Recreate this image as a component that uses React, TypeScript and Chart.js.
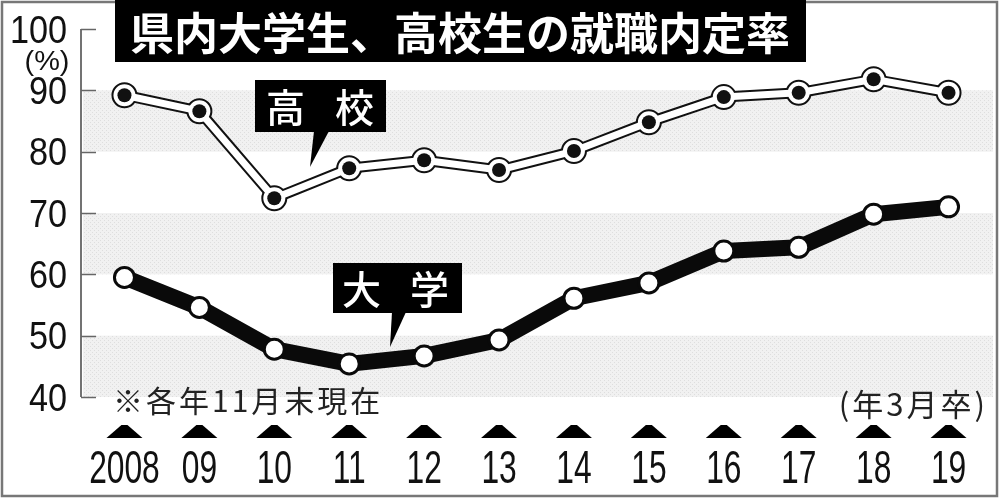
import React, { useEffect, useRef } from "react";
import { Chart, registerables } from "chart.js";

Chart.register(...registerables);

// ---- data ----
const years = ["2008", "09", "10", "11", "12", "13", "14", "15", "16", "17", "18", "19"];
const highSchool = [89.2, 86.6, 72.4, 77.3, 78.6, 77.0, 80.1, 84.8, 88.9, 89.6, 91.8, 89.6];
const university = [59.5, 54.6, 47.8, 45.4, 46.7, 49.3, 56.1, 58.6, 63.8, 64.4, 69.8, 71.0];
const yTicks = [100, 90, 80, 70, 60, 50, 40];
const shadedBands: [number, number][] = [
  [80, 90],
  [60, 70],
  [40, 50],
];
const titleText = "県内大学生、高校生の就職内定率";
const hsLabel = ["高", "校"];
const univLabel = ["大", "学"];
const noteLeft = "※各年11月末現在";
const noteRight = "(年3月卒)";
const unitLabel = "(%)";

const CJK = '"Noto Sans CJK JP", "Noto Sans CJK SC", sans-serif';
const NUM = '"Liberation Sans", Arial, sans-serif';

function makePattern(ctx: CanvasRenderingContext2D) {
  const c = document.createElement("canvas");
  c.width = 4;
  c.height = 4;
  const p = c.getContext("2d")!;
  p.fillStyle = "#f1f1f1";
  p.fillRect(0, 0, 4, 4);
  p.fillStyle = "#dedede";
  p.fillRect(0, 0, 1, 1);
  p.fillRect(2, 2, 1, 1);
  return ctx.createPattern(c, "repeat") || "#ebebeb";
}

function callout(
  ctx: CanvasRenderingContext2D,
  x0: number,
  y0: number,
  x1: number,
  y1: number,
  tail: [number, number][],
  chars: string[],
  offsets: number[]
) {
  ctx.save();
  ctx.fillStyle = "#000";
  ctx.fillRect(x0, y0, x1 - x0, y1 - y0);
  ctx.beginPath();
  ctx.moveTo(tail[0][0], tail[0][1]);
  for (let i = 1; i < tail.length; i++) ctx.lineTo(tail[i][0], tail[i][1]);
  ctx.closePath();
  ctx.fill();
  ctx.fillStyle = "#fff";
  ctx.font = `500 39px ${CJK}`;
  ctx.textAlign = "center";
  ctx.textBaseline = "middle";
  const cx = (x0 + x1) / 2;
  const cy = (y0 + y1) / 2 + 1;
  chars.forEach((ch, i) => ctx.fillText(ch, cx + offsets[i], cy));
  ctx.restore();
}

const decorPlugin = {
  id: "decor",
  beforeDraw(chart: any) {
    const ctx: CanvasRenderingContext2D = chart.ctx;
    const xs = chart.scales.x;
    const ys = chart.scales.y;
    ctx.save();
    ctx.fillStyle = "#fff";
    ctx.fillRect(0, 0, chart.width, chart.height);

    // shaded bands
    const pat = makePattern(ctx);
    ctx.fillStyle = pat as any;
    const bandLeft = 83;
    const bandRight = 993;
    shadedBands.forEach(([lo, hi]) => {
      const t = ys.getPixelForValue(hi);
      const b = ys.getPixelForValue(lo);
      ctx.fillRect(bandLeft, t, bandRight - bandLeft, b - t);
    });

    // y axis
    const axisX = 81;
    ctx.strokeStyle = "#444";
    ctx.lineWidth = 1.5;
    ctx.beginPath();
    ctx.moveTo(axisX, ys.getPixelForValue(100));
    ctx.lineTo(axisX, ys.getPixelForValue(40));
    ctx.stroke();
    ctx.strokeStyle = "#666";
    yTicks.forEach((t) => {
      const py = Math.round(ys.getPixelForValue(t)) + 0.5;
      ctx.beginPath();
      ctx.moveTo(axisX, py);
      ctx.lineTo(96, py);
      ctx.stroke();
    });

    // y labels
    ctx.fillStyle = "#111";
    ctx.font = `38px ${NUM}`;
    ctx.textAlign = "right";
    ctx.textBaseline = "alphabetic";
    yTicks.forEach((t) => {
      const py = ys.getPixelForValue(t);
      ctx.save();
      ctx.translate(67, py + 13.5);
      ctx.scale(0.9, 1);
      ctx.fillText(String(t), 0, 0);
      ctx.restore();
    });
    // unit
    ctx.save();
    ctx.fillStyle = "#111";
    ctx.font = `34px ${NUM}`;
    ctx.textAlign = "center";
    ctx.textBaseline = "middle";
    ctx.translate(47, 62);
    ctx.scale(0.85, 0.8);
    ctx.fillText(unitLabel, 0, 0);
    ctx.restore();

    // x triangles and labels
    years.forEach((lab, i) => {
      const cx = xs.getPixelForValue(i);
      ctx.fillStyle = "#000";
      ctx.beginPath();
      ctx.moveTo(cx - 18, 438);
      ctx.lineTo(cx + 18, 438);
      ctx.lineTo(cx + 3, 425);
      ctx.lineTo(cx - 3, 425);
      ctx.closePath();
      ctx.fill();
      ctx.save();
      ctx.fillStyle = "#111";
      ctx.font = `46px ${NUM}`;
      ctx.textAlign = "center";
      ctx.textBaseline = "alphabetic";
      ctx.translate(cx, 483);
      ctx.scale(0.69, 1);
      ctx.fillText(lab, 0, 0);
      ctx.restore();
    });

    // notes
    ctx.fillStyle = "#222";
    ctx.textBaseline = "middle";
    ctx.textAlign = "left";
    ctx.font = `30px ${CJK}`;
    (ctx as any).letterSpacing = "3px";
    ctx.fillText(noteLeft, 113, 401);
    ctx.textAlign = "right";
    ctx.font = `31px ${CJK}`;
    ctx.fillText(noteRight, 988, 404);
    (ctx as any).letterSpacing = "0px";

    // frame
    ctx.strokeStyle = "#777";
    ctx.lineWidth = 2.5;
    ctx.strokeRect(2, 2, 995, 494);

    // title box
    ctx.fillStyle = "#000";
    ctx.fillRect(115, 0, 691, 62);
    ctx.fillStyle = "#fff";
    ctx.font = `bold 44px ${CJK}`;
    ctx.textAlign = "center";
    ctx.textBaseline = "middle";
    ctx.fillText(titleText, 460, 33);
    ctx.restore();
  },
  afterDatasetsDraw(chart: any) {
    const ctx: CanvasRenderingContext2D = chart.ctx;
    callout(
      ctx,
      255,
      80,
      386,
      132,
      [
        [314, 131],
        [329, 131],
        [310, 167],
      ],
      hsLabel,
      [-35, 34]
    );
    callout(
      ctx,
      333,
      263,
      462,
      313,
      [
        [392, 312],
        [406, 312],
        [390, 347],
      ],
      univLabel,
      [-36, 32]
    );
  },
};

export default function App() {
  const ref = useRef<HTMLCanvasElement | null>(null);
  useEffect(() => {
    if (!ref.current) return;
    const chart = new Chart(ref.current, {
      type: "line",
      data: {
        labels: years,
        datasets: [
          {
            label: "高校 outline",
            data: highSchool,
            borderColor: "#111",
            borderWidth: 11,
            pointRadius: 12,
            pointBackgroundColor: "#fff",
            pointBorderColor: "#111",
            pointBorderWidth: 2,
            borderJoinStyle: "round",
            borderCapStyle: "round",
            tension: 0,
            order: 3,
          },
          {
            label: "高校",
            data: highSchool,
            borderColor: "#fff",
            borderWidth: 7,
            pointRadius: 7,
            pointBackgroundColor: "#111",
            pointBorderColor: "#111",
            pointBorderWidth: 0,
            borderJoinStyle: "round",
            borderCapStyle: "round",
            tension: 0,
            order: 2,
          },
          {
            label: "大学",
            data: university,
            borderColor: "#0a0a0a",
            borderWidth: 16,
            pointRadius: 10,
            pointBackgroundColor: "#fff",
            pointBorderColor: "#0a0a0a",
            pointBorderWidth: 3,
            borderJoinStyle: "round",
            borderCapStyle: "round",
            tension: 0,
            order: 1,
          },
        ],
      },
      options: {
        responsive: false,
        animation: false,
        events: [],
        layout: { padding: { left: 87, right: 2, top: 29, bottom: 103 } },
        plugins: { legend: { display: false }, tooltip: { enabled: false } },
        scales: {
          x: { type: "category", display: false, offset: true },
          y: { type: "linear", display: false, min: 40, max: 100 },
        },
      },
      plugins: [decorPlugin],
    } as any);
    return () => chart.destroy();
  }, []);
  return (
    <div style={{ position: "fixed", left: 0, top: 0, width: 1000, height: 500 }}>
      <canvas ref={ref} width={1000} height={500} style={{ width: 1000, height: 500, display: "block" }} />
    </div>
  );
}
